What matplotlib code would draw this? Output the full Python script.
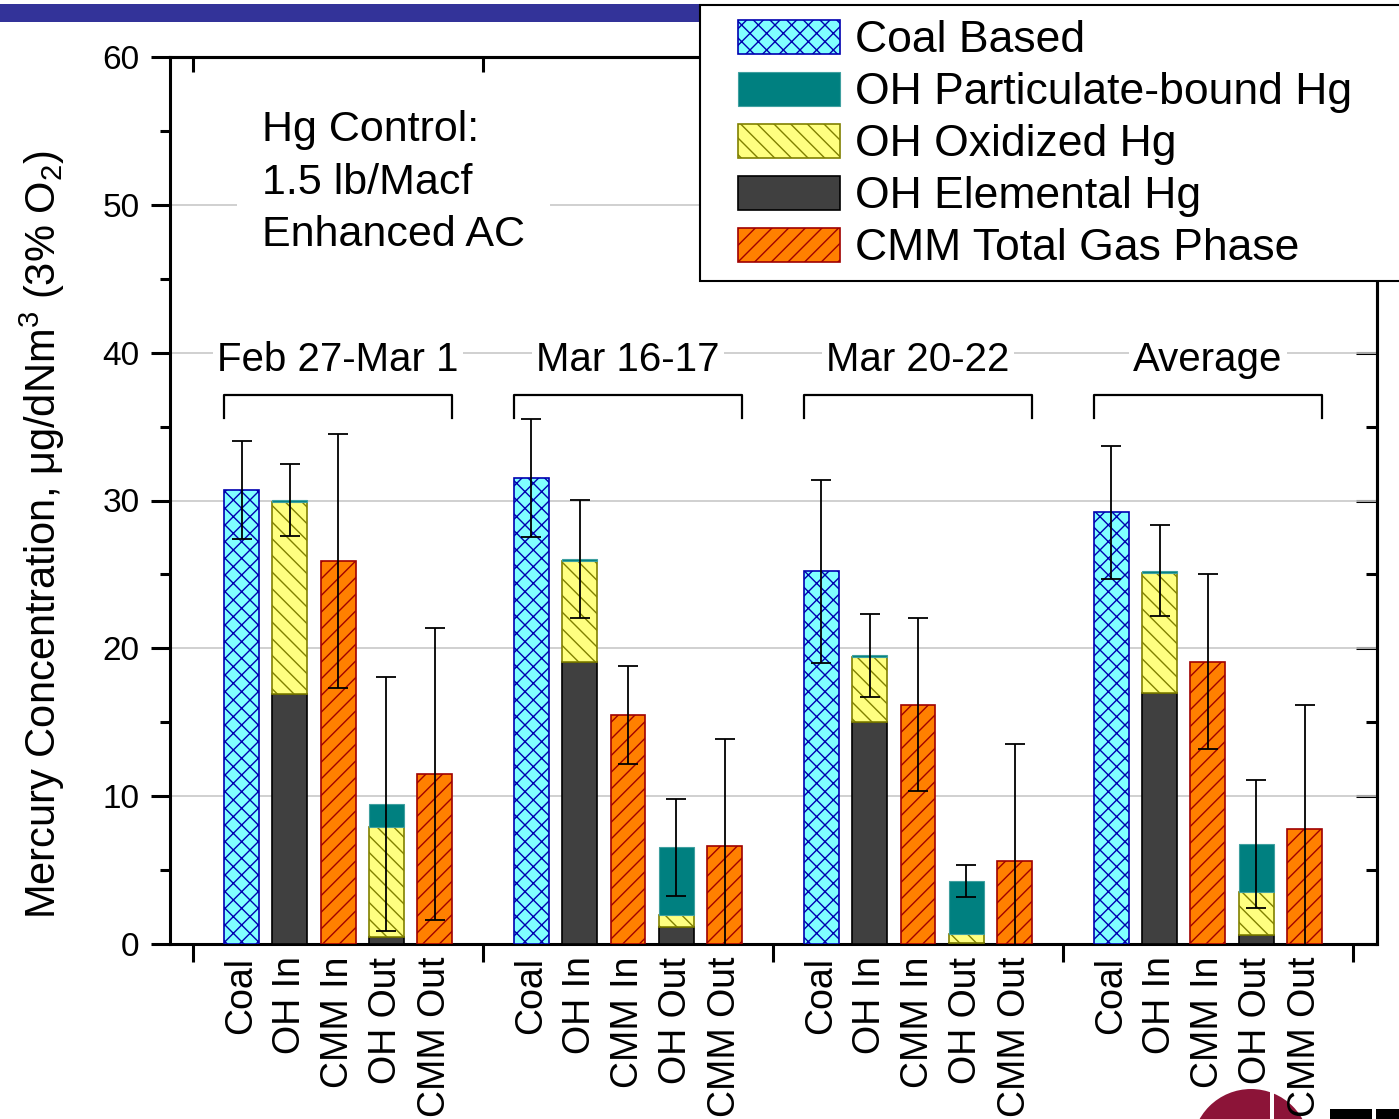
import numpy as np
import matplotlib
matplotlib.use("Agg")
import matplotlib.pyplot as plt
from matplotlib.patches import Patch, Rectangle, Ellipse
from matplotlib.ticker import MultipleLocator

plt.rcParams['font.family'] = ['Liberation Sans', 'DejaVu Sans']
plt.rcParams['mathtext.fontset'] = 'custom'
plt.rcParams['mathtext.rm'] = 'Liberation Sans'
plt.rcParams['mathtext.default'] = 'regular'
plt.rcParams['hatch.linewidth'] = 1.0

# sampling campaigns and sampling locations
groups = ['Feb 27-Mar 1', 'Mar 16-17', 'Mar 20-22', 'Average']
stations = ['Coal', 'OH In', 'CMM In', 'OH Out', 'CMM Out']

# Hg concentrations, ug/dNm3 at 3% O2
coal = [30.7, 31.5, 25.2, 29.2]
coal_err = [3.3, 4.0, 6.2, 4.5]

oh_in_elem = [16.9, 19.1, 15.0, 17.0]
oh_in_oxid = [13.0, 6.8, 4.4, 8.1]
oh_in_part = [0.15, 0.16, 0.14, 0.16]
oh_in_err = [2.45, 4.0, 2.8, 3.05]

cmm_in = [25.9, 15.5, 16.2, 19.1]
cmm_in_err = [8.6, 3.3, 5.85, 5.9]

oh_out_elem = [0.5, 1.14, 0.1, 0.58]
oh_out_oxid = [7.4, 0.81, 0.6, 2.95]
oh_out_part = [1.58, 4.58, 3.58, 3.24]
oh_out_err = [8.6, 3.3, 1.07, 4.35]

cmm_out = [11.5, 6.6, 5.6, 7.8]
cmm_out_err = [9.85, 7.3, 7.9, 8.4]

legend_labels = ['Coal Based', 'OH Particulate-bound Hg', 'OH Oxidized Hg',
                 'OH Elemental Hg', 'CMM Total Gas Phase']

coal_style = dict(facecolor='#80ffff', edgecolor='#0000b0', hatch='xx', linewidth=1.2)
part_style = dict(facecolor='#008080', edgecolor='#40a0a0', linewidth=0.8)
oxid_style = dict(facecolor='#ffff80', edgecolor='#808000', hatch='\\\\', linewidth=1.2)
elem_style = dict(facecolor='#404040', edgecolor='black', linewidth=1.2)
cmm_style = dict(facecolor='#ff8000', edgecolor='#a00000', hatch='//', linewidth=1.2)

W, H = 1399, 1119
fig = plt.figure(figsize=(W / 100, H / 100), dpi=100)
ax = fig.add_axes([170 / W, 1 - 944 / H, (1377 - 170) / W, (944 - 57) / H])

base = np.arange(len(groups)) * 6
width = 0.72
err_kw = dict(fmt='none', ecolor='black', elinewidth=1.3, capsize=7, capthick=1.3, zorder=4)

def stack(x, parts, styles):
    bottom = np.zeros(len(x))
    for vals, st in zip(parts, styles):
        vals = np.asarray(vals)
        ax.bar(x, vals, width, bottom=bottom, zorder=3, **st)
        bottom = bottom + vals
    return bottom

# coal
ax.bar(base + 1, coal, width, zorder=3, **coal_style)
ax.errorbar(base + 1, coal, yerr=coal_err, **err_kw)

# OH inlet speciation
top = stack(base + 2, [oh_in_elem, oh_in_oxid, oh_in_part], [elem_style, oxid_style, part_style])
ax.errorbar(base + 2, top, yerr=oh_in_err, **err_kw)

# CMM inlet
ax.bar(base + 3, cmm_in, width, zorder=3, **cmm_style)
ax.errorbar(base + 3, cmm_in, yerr=cmm_in_err, **err_kw)

# OH outlet speciation
top = stack(base + 4, [oh_out_elem, oh_out_oxid, oh_out_part], [elem_style, oxid_style, part_style])
ax.errorbar(base + 4, top, yerr=oh_out_err, **err_kw)

# CMM outlet
ax.bar(base + 5, cmm_out, width, zorder=3, **cmm_style)
ax.errorbar(base + 5, cmm_out, yerr=cmm_out_err, **err_kw)

# campaign brackets and titles
for b, name in zip(base, groups):
    x0, x1 = b + 1 - width / 2, b + 5 + width / 2
    ax.plot([x0, x0, x1, x1], [35.6, 37.15, 37.15, 35.6], color='black', lw=1.6, zorder=4)
    ax.text(b + 3, 39.5, name, ha='center', va='center', fontsize=29, zorder=4,
            bbox=dict(facecolor='white', edgecolor='none', pad=3))

ax.text(1.43, 51.5, 'Hg Control:\n1.5 lb/Macf\nEnhanced AC', ha='left', va='center',
        fontsize=31, linespacing=1.4, zorder=4,
        bbox=dict(facecolor='white', edgecolor='none', pad=18))

# axes
ax.set_xlim(-0.48, 24.5)
ax.set_ylim(0, 60)
ax.yaxis.set_major_locator(MultipleLocator(10))
ax.yaxis.set_minor_locator(MultipleLocator(5))
ax.yaxis.grid(True, which='major', color='#c8c8c8', lw=1.2)
ax.set_axisbelow(True)

xpos = np.concatenate([b + np.arange(1, 6) for b in base])
ax.set_xticks(xpos)
ax.set_xticklabels(stations * len(groups), rotation=90, fontsize=27)
ax.set_xticks(np.append(base, 24), minor=True)
ax.tick_params(axis='x', which='major', length=0, pad=9)
ax.tick_params(axis='x', which='minor', direction='out', length=13, width=2.2)
ax.tick_params(axis='y', which='major', direction='out', length=14, width=2.2, labelsize=24, pad=8)
ax.tick_params(axis='y', which='minor', direction='out', length=7, width=2.2)
for s in ax.spines.values():
    s.set_linewidth(2.2)

ax_r = ax.secondary_yaxis('right')
ax_r.yaxis.set_major_locator(MultipleLocator(10))
ax_r.yaxis.set_minor_locator(MultipleLocator(5))
ax_r.tick_params(which='major', direction='in', length=15, width=2.2, labelright=False)
ax_r.tick_params(which='minor', direction='in', length=8, width=2.2)
ax_r.spines['right'].set_linewidth(2.2)

ax_t = ax.secondary_xaxis('top')
ax_t.set_xticks(np.append(base, 24))
ax_t.tick_params(which='major', direction='in', length=11, width=2.2, labeltop=False)
ax_t.spines['top'].set_linewidth(2.2)

ax.set_ylabel('Mercury Concentration, μg/dNm$^3$ (3% O$_2$)', fontsize=30)
ax.yaxis.set_label_coords(-0.085, 0.462)

# legend: white box drawn separately so it can run past the right edge
fig.add_artist(Rectangle((700 / W, 1 - 281 / H), 720 / W, 276 / H, transform=fig.transFigure,
                         facecolor='white', edgecolor='black', linewidth=1.5, zorder=5))
handles = [Patch(**coal_style), Patch(**part_style), Patch(**oxid_style),
           Patch(**elem_style), Patch(**cmm_style)]
leg = fig.legend(handles, legend_labels, loc='upper left',
                 bbox_to_anchor=(738 / W, 1 - 20 / H), fontsize=32, frameon=False,
                 borderpad=0, handlelength=2.3, handleheight=0.79, handletextpad=0.34,
                 labelspacing=0.24, borderaxespad=0)
leg.set_zorder(6)

# slide banner and logo
fig.add_artist(Rectangle((0, 1 - 22 / H), 700 / W, 18 / H, transform=fig.transFigure,
                         facecolor='#333399', edgecolor='none', zorder=-1))
fig.add_artist(Ellipse((1251 / W, 1 - 1148 / H), 118 / W, 118 / H, transform=fig.transFigure,
                       facecolor='#8c1438', edgecolor='none', zorder=-1))
fig.add_artist(Rectangle((1270 / W, 0), 4 / W, 40 / H, transform=fig.transFigure,
                         facecolor='white', edgecolor='none', zorder=-1))
fig.add_artist(Rectangle((1330 / W, 0), 42 / W, 10 / H, transform=fig.transFigure,
                         facecolor='black', edgecolor='none', zorder=-1))
fig.add_artist(Rectangle((1376 / W, 0), 23 / W, 10 / H, transform=fig.transFigure,
                         facecolor='black', edgecolor='none', zorder=-1))

fig.savefig('out.png', dpi=100)
